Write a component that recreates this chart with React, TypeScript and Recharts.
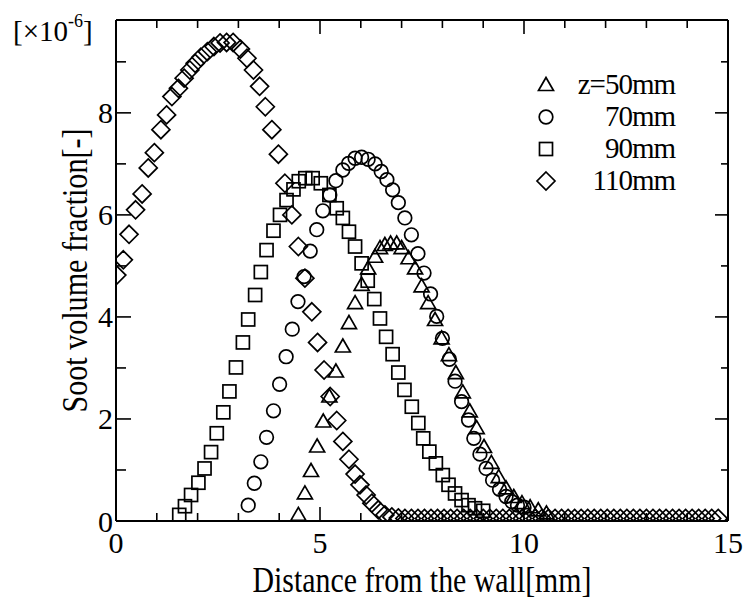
import React from 'react';
import { ScatterChart, Scatter, XAxis, YAxis } from 'recharts';

const seriesNames = ['z=50mm', '70mm', '90mm', '110mm'];
const xTicks = [0, 1, 2, 3, 4, 5, 6, 7, 8, 9, 10, 11, 12, 13, 14, 15];
const yTicks = [0, 1, 2, 3, 4, 5, 6, 7, 8, 9];
const xLabel = 'Distance from the wall[mm]';
const yLabel = 'Soot volume fraction[-]';

const z50: [number, number][] = [
  [4.47, 0.12], [4.63, 0.54], [4.78, 0.98], [4.93, 1.46], [5.08, 1.95], [5.23, 2.44],
  [5.39, 2.93], [5.56, 3.42], [5.71, 3.88], [5.86, 4.27], [6.02, 4.63], [6.18, 4.95],
  [6.35, 5.18], [6.47, 5.35], [6.59, 5.41], [6.73, 5.44], [6.88, 5.44], [7.0, 5.35],
  [7.17, 5.15], [7.33, 4.95], [7.49, 4.6], [7.65, 4.27], [7.82, 3.94], [7.98, 3.58],
  [8.16, 3.25], [8.33, 2.9], [8.5, 2.52], [8.67, 2.15], [8.84, 1.82], [9.02, 1.45],
  [9.2, 1.14], [9.38, 0.86], [9.56, 0.64], [9.75, 0.47], [9.95, 0.35], [10.15, 0.27],
  [10.35, 0.21], [10.55, 0.15],
];

const z70: [number, number][] = [
  [3.24, 0.31], [3.39, 0.74], [3.55, 1.16], [3.69, 1.64], [3.86, 2.16], [4.01, 2.68],
  [4.17, 3.22], [4.32, 3.76], [4.46, 4.3], [4.61, 4.79], [4.76, 5.29], [4.92, 5.71],
  [5.07, 6.08], [5.24, 6.39], [5.39, 6.67], [5.56, 6.88], [5.7, 7.01], [5.86, 7.11],
  [6.02, 7.13], [6.18, 7.09], [6.35, 7.0], [6.5, 6.85], [6.64, 6.69], [6.78, 6.49],
  [6.92, 6.24], [7.08, 5.94], [7.24, 5.61], [7.4, 5.24], [7.55, 4.86], [7.71, 4.45],
  [7.86, 4.01], [8.0, 3.58], [8.17, 3.17], [8.31, 2.74], [8.47, 2.34], [8.64, 1.98],
  [8.77, 1.62], [8.92, 1.31], [9.07, 1.03], [9.23, 0.8], [9.4, 0.62], [9.56, 0.48],
  [9.7, 0.38], [9.84, 0.31], [10.0, 0.27],
];

const z90: [number, number][] = [
  [1.55, 0.12], [1.69, 0.29], [1.84, 0.51], [2.02, 0.75], [2.17, 1.03], [2.33, 1.35],
  [2.47, 1.72], [2.63, 2.13], [2.78, 2.54], [2.94, 3.01], [3.11, 3.5], [3.24, 3.95],
  [3.41, 4.43], [3.55, 4.88], [3.69, 5.31], [3.86, 5.69], [4.02, 6.0], [4.18, 6.29],
  [4.35, 6.5], [4.48, 6.66], [4.64, 6.72], [4.82, 6.72], [5.02, 6.62], [5.23, 6.39],
  [5.41, 6.13], [5.56, 5.94], [5.71, 5.67], [5.86, 5.38], [6.02, 5.05], [6.17, 4.71],
  [6.33, 4.35], [6.47, 3.97], [6.62, 3.61], [6.78, 3.27], [6.92, 2.91], [7.07, 2.57],
  [7.25, 2.24], [7.41, 1.92], [7.53, 1.62], [7.68, 1.36], [7.84, 1.13], [8.01, 0.9],
  [8.15, 0.71], [8.31, 0.54], [8.47, 0.41], [8.64, 0.31], [8.8, 0.25], [9.0, 0.2],
];

const z110: [number, number][] = [
  [0.02, 4.82], [0.18, 5.12], [0.32, 5.62], [0.48, 6.1], [0.64, 6.41], [0.79, 6.92],
  [0.94, 7.22], [1.1, 7.67], [1.24, 7.96], [1.37, 8.32], [1.53, 8.48], [1.67, 8.68],
  [1.81, 8.84], [1.94, 8.97], [2.08, 9.09], [2.24, 9.2], [2.4, 9.3], [2.55, 9.37],
  [2.71, 9.38], [2.87, 9.38], [3.05, 9.25], [3.21, 9.07], [3.37, 8.84], [3.52, 8.52],
  [3.66, 8.12], [3.82, 7.67], [3.98, 7.19], [4.14, 6.62], [4.31, 6.0], [4.47, 5.38],
  [4.63, 4.76], [4.8, 4.1], [4.94, 3.5], [5.1, 2.96], [5.25, 2.44], [5.41, 1.97],
  [5.56, 1.56], [5.71, 1.21], [5.86, 0.92], [5.98, 0.71], [6.13, 0.51], [6.27, 0.35],
  [6.43, 0.22], [6.59, 0.12], [6.76, 0.08], [6.92, 0.06], [7.08, 0.05], [7.24, 0.05],
  [7.4, 0.05], [7.56, 0.05], [7.72, 0.05], [7.88, 0.05], [8.04, 0.05], [8.2, 0.05],
  [8.36, 0.05], [8.52, 0.05], [8.68, 0.05], [8.84, 0.05], [9.0, 0.05], [9.16, 0.05],
  [9.32, 0.05], [9.48, 0.05], [9.64, 0.05], [9.8, 0.05], [9.96, 0.05], [10.12, 0.05],
  [10.28, 0.05], [10.44, 0.05], [10.6, 0.05], [10.76, 0.05], [10.92, 0.05], [11.08, 0.05],
  [11.24, 0.05], [11.4, 0.05], [11.56, 0.05], [11.72, 0.05], [11.88, 0.05], [12.04, 0.05],
  [12.2, 0.05], [12.36, 0.05], [12.52, 0.05], [12.68, 0.05], [12.84, 0.05], [13.0, 0.05],
  [13.16, 0.05], [13.32, 0.05], [13.48, 0.05], [13.64, 0.05], [13.8, 0.05], [13.96, 0.05],
  [14.12, 0.05], [14.28, 0.05], [14.44, 0.05], [14.6, 0.05], [14.76, 0.05],
];

const FONT = '"Liberation Serif", "Times New Roman", serif';
const SW = 1.7;

const toObj = (arr: [number, number][]) => arr.map(([x, y]) => ({ x, y }));

type ShapeKind = 'triangle' | 'circle' | 'square' | 'diamond';

const Marker = ({ kind, cx, cy }: { kind: ShapeKind; cx: number; cy: number }) => {
  if (cx == null || cy == null) return null;
  if (kind === 'triangle') {
    const pts = `${cx},${cy - 7.5} ${cx - 7.5},${cy + 5.5} ${cx + 7.5},${cy + 5.5}`;
    return <polygon points={pts} fill="none" stroke="#000" strokeWidth={SW} />;
  }
  if (kind === 'circle') return <circle cx={cx} cy={cy} r={6.8} fill="none" stroke="#000" strokeWidth={SW} />;
  if (kind === 'square') return <rect x={cx - 6.5} y={cy - 6.5} width={13} height={13} fill="none" stroke="#000" strokeWidth={SW} />;
  const d = 9;
  return <polygon points={`${cx},${cy - d} ${cx + d},${cy} ${cx},${cy + d} ${cx - d},${cy}`} fill="none" stroke="#000" strokeWidth={SW} />;
};

const series: { name: string; data: [number, number][]; kind: ShapeKind }[] = [
  { name: seriesNames[0], data: z50, kind: 'triangle' },
  { name: seriesNames[1], data: z70, kind: 'circle' },
  { name: seriesNames[2], data: z90, kind: 'square' },
  { name: seriesNames[3], data: z110, kind: 'diamond' },
];

const tickText = (x: number, y: number, v: number, anchor: 'middle' | 'end') => (
  <text x={x} y={y} textAnchor={anchor} fontSize={30} fontFamily={FONT} fill="#000">{v}</text>
);

const BottomTick = (p: any) => {
  const v = p.payload.value;
  const major = v % 5 === 0;
  return (
    <g>
      <line x1={p.x} y1={p.y} x2={p.x} y2={p.y - (major ? 14 : 8)} stroke="#000" strokeWidth={1.6} />
      {major ? tickText(p.x, p.y + 32, v, 'middle') : null}
    </g>
  );
};
const TopTick = (p: any) => {
  const v = p.payload.value;
  const major = v % 5 === 0;
  return <line x1={p.x} y1={p.y} x2={p.x} y2={p.y + (major ? 14 : 8)} stroke="#000" strokeWidth={1.6} />;
};
const LeftTick = (p: any) => {
  const v = p.payload.value;
  const major = v % 2 === 0;
  return (
    <g>
      <line x1={p.x} y1={p.y} x2={p.x + (major ? 15 : 10)} y2={p.y} stroke="#000" strokeWidth={1.6} />
      {major ? tickText(p.x - 3, p.y + 10.5, v, 'end') : null}
    </g>
  );
};
const RightTick = (p: any) => {
  const v = p.payload.value;
  const major = v % 2 === 0;
  return <line x1={p.x} y1={p.y} x2={p.x - (major ? 13 : 7)} y2={p.y} stroke="#000" strokeWidth={1.6} />;
};

const XLabel = (p: any) => {
  const vb = p.viewBox || { x: 116, y: 521, width: 612 };
  return (
    <text x={vb.x + vb.width / 2} y={vb.y + 71} textAnchor="middle" fontSize={35} fontFamily={FONT}
      textLength={339} lengthAdjust="spacingAndGlyphs" fill="#000">{xLabel}</text>
  );
};
const YLabel = (p: any) => {
  const vb = p.viewBox || { x: 115, y: 20, width: 1, height: 501 };
  const cx = vb.x + vb.width - 29;
  const cy = vb.y + vb.height / 2;
  return (
    <text x={cx} y={cy} transform={`rotate(-90, ${cx}, ${cy})`} textAnchor="middle" fontSize={35}
      fontFamily={FONT} textLength={284} lengthAdjust="spacingAndGlyphs" fill="#000">{yLabel}</text>
  );
};
const ScaleLabel = (p: any) => {
  const vb = p.viewBox || { x: 116, y: 19, height: 1 };
  const x = vb.x - 103;
  const y = vb.y + vb.height + 21;
  return (
    <text x={x} y={y} fontSize={29} fontFamily={FONT} fill="#000">
      [×10<tspan dy={-14} fontSize={18}>-6</tspan><tspan dy={14}>]</tspan>
    </text>
  );
};

const LegendBox = () => (
  <svg width={200} height={140} style={{ position: 'absolute', left: 530, top: 68, overflow: 'visible' }}>
    {series.map((s, i) => (
      <g key={s.name}>
        <Marker kind={s.kind} cx={16} cy={17 + 32 * i} />
        <text x={145} y={17 + 32 * i + 9} textAnchor="end" fontSize={29} fontFamily={FONT} letterSpacing={-1} fill="#000">
          {s.name}
        </text>
      </g>
    ))}
  </svg>
);

export default function App() {
  return (
    <div style={{ position: 'absolute', left: 0, top: 0, width: 746, height: 601, background: '#fff' }}>
      <ScatterChart width={746} height={601} margin={{ top: 19, right: 17, bottom: 79, left: 115 }}>
        <XAxis xAxisId="b" type="number" dataKey="x" orientation="bottom" domain={[0, 15]} ticks={xTicks}
          interval={0} allowDataOverflow height={1} tickSize={0} tickMargin={0} tickLine={false}
          axisLine={{ stroke: '#000', strokeWidth: 2 }} tick={BottomTick} label={XLabel} />
        <XAxis xAxisId="t" type="number" dataKey="x" orientation="top" domain={[0, 15]} ticks={xTicks}
          interval={0} allowDataOverflow height={1} tickSize={0} tickMargin={0} tickLine={false}
          axisLine={{ stroke: '#000', strokeWidth: 2 }} tick={TopTick} label={ScaleLabel} />
        <YAxis yAxisId="l" type="number" dataKey="y" orientation="left" domain={[0, 9.82]} ticks={yTicks}
          interval={0} allowDataOverflow width={1} tickSize={0} tickMargin={0} tickLine={false}
          axisLine={{ stroke: '#000', strokeWidth: 2 }} tick={LeftTick} label={YLabel} />
        <YAxis yAxisId="r" type="number" dataKey="y" orientation="right" domain={[0, 9.82]} ticks={yTicks}
          interval={0} allowDataOverflow width={1} tickSize={0} tickMargin={0} tickLine={false}
          axisLine={{ stroke: '#000', strokeWidth: 2 }} tick={RightTick} />
        {series.map((s) => (
          <Scatter key={s.name} name={s.name} data={toObj(s.data)} xAxisId="b" yAxisId="l" isAnimationActive={false}
            shape={(p: any) => <Marker kind={s.kind} cx={p.cx} cy={p.cy} />} />
        ))}
      </ScatterChart>
      <LegendBox />
    </div>
  );
}
